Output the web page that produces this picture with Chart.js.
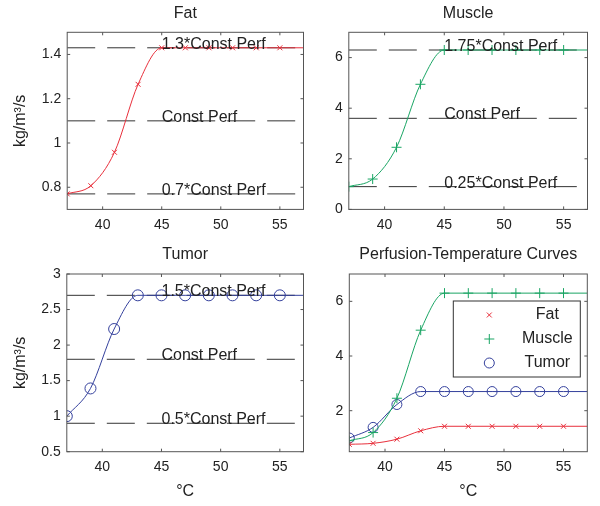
<!DOCTYPE html>
<html lang="en">
<head>
  <meta charset="UTF-8" />
  <title>Perfusion-Temperature Curves</title>
  <script src="https://cdn.jsdelivr.net/npm/chart.js@4"></script>
  <style>
    html, body { margin: 0; padding: 0; background: #fff; }
    #page { position: relative; width: 600px; height: 506px; overflow: hidden; }
    .panel { position: absolute; }
    #fatBox { left: 0; top: 0; width: 310px; height: 253px; }
    #muscleBox { left: 300px; top: 0; width: 300px; height: 253px; }
    #tumorBox { left: 0; top: 230px; width: 310px; height: 276px; }
    #allBox { left: 300px; top: 230px; width: 300px; height: 276px; }
  </style>
</head>
<body>
  <div id="page">
    <div class="panel" id="fatBox"><canvas id="fatChart"></canvas></div>
    <div class="panel" id="muscleBox"><canvas id="muscleChart"></canvas></div>
    <div class="panel" id="tumorBox"><canvas id="tumorChart"></canvas></div>
    <div class="panel" id="allBox"><canvas id="allChart"></canvas></div>
  </div>

  <script>
    Chart.defaults.font.family = '"Liberation Sans", Arial, sans-serif';
    Chart.defaults.font.size = 14;
    Chart.defaults.color = '#222';

    // temperatures (deg C): markers every 2 degrees, curve runs to the axis edge
    const temps = [37, 39, 41, 43, 45, 47, 49, 51, 53, 55, 57];
    const xRange = [37, 57];
    const xTicks = [40, 45, 50, 55];

    // perfusion (kg/m^3/s)
    const fatPerf = [0.77, 0.807, 0.958, 1.265, 1.43, 1.43, 1.43, 1.43, 1.43, 1.43, 1.43];
    const musclePerf = [0.9, 1.2, 2.455, 4.945, 6.3, 6.3, 6.3, 6.3, 6.3, 6.3, 6.3];
    const tumorPerf = [1.0, 1.39, 2.226, 2.7, 2.7, 2.7, 2.7, 2.7, 2.7, 2.7, 2.7];

    // constant perfusion and the reference multiples
    const fatConst = 1.1;
    const muscleConst = 3.6;
    const tumorConst = 1.8;
    const fatFactors = [1.3, 1, 0.7];
    const muscleFactors = [1.75, 1, 0.25];
    const tumorFactors = [1.5, 1, 0.5];

    // y ranges and ticks
    const fatYRange = [0.7, 1.5];
    const muscleYRange = [0, 7];
    const tumorYRange = [0.5, 3];
    const allYRange = [0.5, 7];
    const fatYTicks = [0.8, 1, 1.2, 1.4];
    const muscleYTicks = [0, 2, 4, 6];
    const tumorYTicks = [0.5, 1, 1.5, 2, 2.5, 3];
    const allYTicks = [2, 4, 6];

    const fatColor = '#e8303c';
    const muscleColor = '#1aa564';
    const tumorColor = '#34409c';
    const axisColor = '#555';
    const textFont = '16px "Liberation Sans", Arial, sans-serif';

    // box round the plot area with inward tick marks on all four sides
    const axesBox = {
      id: 'axesBox',
      afterDraw(chart) {
        const { ctx, chartArea: a, scales: { x, y } } = chart;
        const len = 3;
        ctx.save();
        ctx.strokeStyle = axisColor;
        ctx.lineWidth = 1;
        ctx.strokeRect(a.left, a.top, a.right - a.left, a.bottom - a.top);
        ctx.beginPath();
        x.ticks.forEach(t => {
          const px = x.getPixelForValue(t.value);
          ctx.moveTo(px, a.bottom); ctx.lineTo(px, a.bottom - len);
          ctx.moveTo(px, a.top); ctx.lineTo(px, a.top + len);
        });
        y.ticks.forEach(t => {
          const py = y.getPixelForValue(t.value);
          ctx.moveTo(a.left, py); ctx.lineTo(a.left + len, py);
          ctx.moveTo(a.right, py); ctx.lineTo(a.right - len, py);
        });
        ctx.stroke();
        ctx.restore();
      }
    };

    // title centred over the plot area
    const panelTitle = {
      id: 'panelTitle',
      afterDraw(chart, args, opts) {
        if (!opts.text) return;
        const { ctx, chartArea: a } = chart;
        ctx.save();
        ctx.font = textFont;
        ctx.fillStyle = '#222';
        ctx.textAlign = 'center';
        ctx.textBaseline = 'alphabetic';
        ctx.fillText(opts.text, (a.left + a.right) / 2, a.top - opts.gap);
        ctx.restore();
      }
    };

    // "k*Const Perf" labels sitting on the dashed lines
    const refLabels = {
      id: 'refLabels',
      afterDatasetsDraw(chart, args, opts) {
        if (!opts.items) return;
        const { ctx, scales: { x, y } } = chart;
        ctx.save();
        ctx.font = textFont;
        ctx.fillStyle = '#222';
        ctx.textAlign = 'left';
        ctx.textBaseline = 'alphabetic';
        opts.items.forEach(it => {
          ctx.fillText(it.text, x.getPixelForValue(opts.at), y.getPixelForValue(it.value) + 1);
        });
        ctx.restore();
      }
    };

    // boxed legend inside the plot area
    const boxLegend = {
      id: 'boxLegend',
      afterDraw(chart, args, opts) {
        if (!opts.display) return;
        const { ctx, chartArea: a } = chart;
        const left = a.left + opts.left;
        const top = a.top + opts.top;
        ctx.save();
        ctx.fillStyle = '#fff';
        ctx.fillRect(left, top, opts.width, opts.height);
        ctx.strokeStyle = '#333';
        ctx.lineWidth = 1;
        ctx.strokeRect(left, top, opts.width, opts.height);
        chart.data.datasets.forEach((ds, i) => {
          const y = top + opts.firstRow + i * opts.rowGap;
          const el = chart.getDatasetMeta(i).data[0];
          ctx.strokeStyle = ds.borderColor;
          ctx.fillStyle = 'rgba(0,0,0,0)';
          ctx.lineWidth = 1;
          Chart.helpers.drawPoint(ctx, el.options, left + opts.markerX, y);
          ctx.font = textFont;
          ctx.fillStyle = '#222';
          ctx.textAlign = 'center';
          ctx.textBaseline = 'middle';
          ctx.fillText(ds.label, left + opts.textX, y);
        });
        ctx.restore();
      }
    };

    function curve(label, values, color, style, radius) {
      return {
        label,
        data: temps.map((t, i) => ({ x: t, y: values[i] })),
        borderColor: color,
        backgroundColor: 'rgba(0,0,0,0)',
        borderWidth: 1,
        cubicInterpolationMode: 'monotone',
        pointStyle: style,
        pointRadius: c => (c.dataIndex < temps.length - 1 ? radius : 0),
        pointBorderColor: color,
        pointBackgroundColor: 'rgba(0,0,0,0)',
        pointBorderWidth: 1
      };
    }

    function refLines(base, factors) {
      return factors.map(f => ({
        label: 'ref',
        data: xRange.map(x => ({ x, y: base * f })),
        borderColor: '#333',
        borderWidth: 1,
        borderDash: [28, 12],
        pointRadius: 0
      }));
    }

    function refItems(base, factors) {
      return factors.map(f => ({ text: f === 1 ? 'Const Perf' : f + '*Const Perf', value: base * f }));
    }

    function makePanel(id, p) {
      return new Chart(document.getElementById(id), {
        type: 'line',
        data: { datasets: p.datasets },
        options: {
          responsive: true,
          maintainAspectRatio: false,
          animation: false,
          events: [],
          layout: { padding: { top: p.top, right: p.right, left: 0, bottom: 0 } },
          scales: {
            x: {
              type: 'linear',
              min: xRange[0],
              max: xRange[1],
              grid: { display: false, drawTicks: false },
              border: { display: false },
              ticks: { padding: 7, maxRotation: 0, callback: v => String(v) },
              afterBuildTicks: s => { s.ticks = xTicks.map(v => ({ value: v })); },
              afterFit: s => { s.height = p.bottom; },
              title: { display: !!p.xTitle, text: p.xTitle || '', font: { size: 16 }, padding: { top: 0, bottom: 5 } }
            },
            y: {
              type: 'linear',
              min: p.yRange[0],
              max: p.yRange[1],
              grid: { display: false, drawTicks: false },
              border: { display: false },
              ticks: { padding: 6, callback: v => String(v) },
              afterBuildTicks: s => { s.ticks = p.yTicks.map(v => ({ value: v })); },
              afterFit: s => { s.width = p.left; },
              title: { display: !!p.yTitle, text: p.yTitle || '', font: { size: 16 }, padding: { top: 11, bottom: 0 } }
            }
          },
          plugins: {
            legend: { display: false },
            tooltip: { enabled: false },
            panelTitle: { text: p.title, gap: p.titleGap },
            refLabels: p.refs ? { at: 45, items: p.refs } : {},
            boxLegend: p.legend || { display: false }
          }
        },
        plugins: [axesBox, refLabels, panelTitle, boxLegend]
      });
    }

    makePanel('fatChart', {
      title: 'Fat', titleGap: 14,
      top: 32.3, right: 6.5, left: 67.2, bottom: 43.6,
      yRange: fatYRange, yTicks: fatYTicks, yTitle: 'kg/m³/s',
      datasets: [curve('Fat', fatPerf, fatColor, 'crossRot', 3.5), ...refLines(fatConst, fatFactors)],
      refs: refItems(fatConst, fatFactors)
    });

    makePanel('muscleChart', {
      title: 'Muscle', titleGap: 14,
      top: 32.3, right: 12.5, left: 48.8, bottom: 43.6,
      yRange: muscleYRange, yTicks: muscleYTicks,
      datasets: [curve('Muscle', musclePerf, muscleColor, 'cross', 5), ...refLines(muscleConst, muscleFactors)],
      refs: refItems(muscleConst, muscleFactors)
    });

    makePanel('tumorChart', {
      title: 'Tumor', titleGap: 15,
      top: 44, right: 6.5, left: 66.8, bottom: 54.3,
      yRange: tumorYRange, yTicks: tumorYTicks, yTitle: 'kg/m³/s', xTitle: '°C',
      datasets: [curve('Tumor', tumorPerf, tumorColor, 'circle', 5.5), ...refLines(tumorConst, tumorFactors)],
      refs: refItems(tumorConst, tumorFactors)
    });

    makePanel('allChart', {
      title: 'Perfusion-Temperature Curves', titleGap: 15,
      top: 44, right: 12.7, left: 49.3, bottom: 54.3,
      yRange: allYRange, yTicks: allYTicks, xTitle: '°C',
      datasets: [
        curve('Fat', fatPerf, fatColor, 'crossRot', 3.5),
        curve('Muscle', musclePerf, muscleColor, 'cross', 5),
        curve('Tumor', tumorPerf, tumorColor, 'circle', 5)
      ],
      legend: { display: true, left: 104, top: 27, width: 127, height: 76, firstRow: 14, rowGap: 24, markerX: 36, textX: 94 }
    });
  </script>
</body>
</html>
